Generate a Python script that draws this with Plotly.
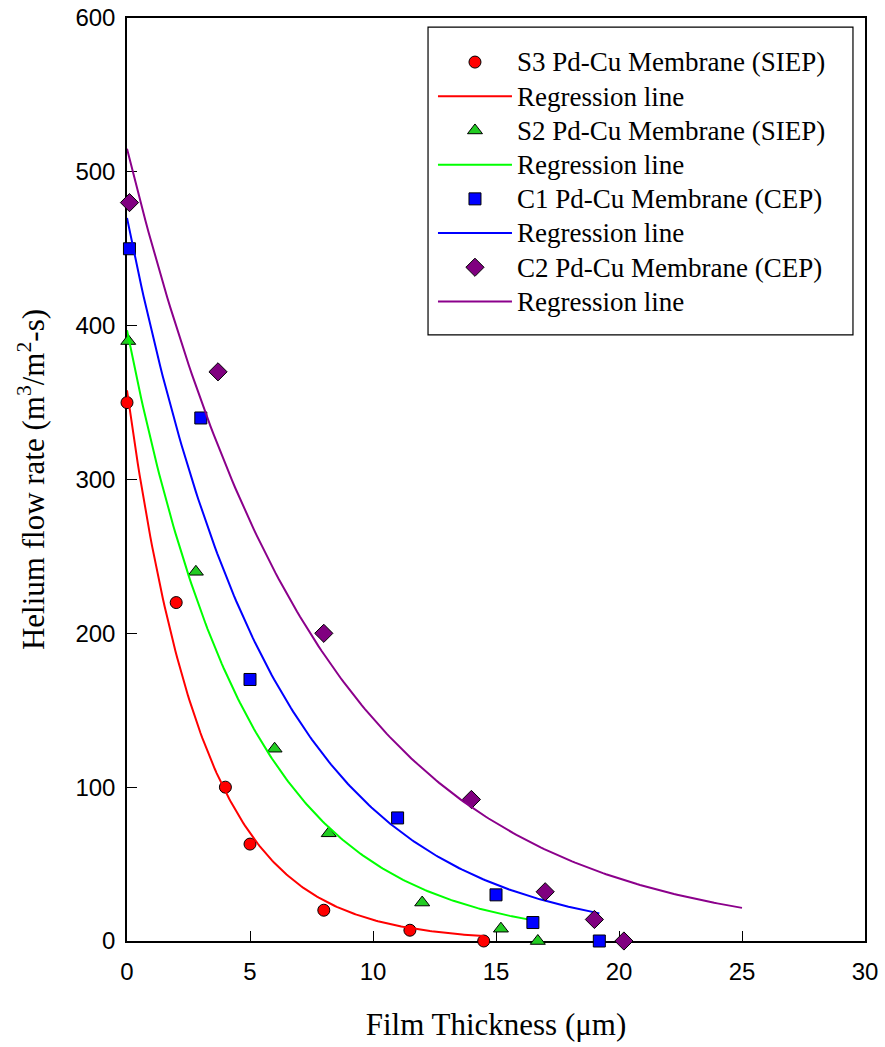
import numpy as np
import plotly.graph_objects as go

# Measured helium flow rate versus Pd-Cu film thickness
s3_thickness = [0.0, 2.0, 4.0, 5.0, 8.0, 11.5, 14.5]
s3_flow = [350, 220, 100, 63, 20, 7, 0]

s2_thickness = [0.05, 2.8, 6.0, 8.2, 12.0, 15.2, 16.7]
s2_flow = [390, 240, 125, 70, 25, 8, 0]

c1_thickness = [0.1, 3.0, 5.0, 11.0, 15.0, 16.5, 19.2]
c1_flow = [450, 340, 170, 80, 30, 12, 0]

c2_thickness = [0.1, 3.7, 8.0, 14.0, 17.0, 19.0, 20.2]
c2_flow = [480, 370, 200, 92, 32, 14, 0]

# Exponential regression y = a * exp(-b * x), with the x span each fit covers
s3_fit = dict(a=358.0, b=0.326, x_end=14.5)
s2_fit = dict(a=397.0, b=0.205, x_end=16.3)
c1_fit = dict(a=470.0, b=0.170, x_end=19.2)
c2_fit = dict(a=515.0, b=0.127, x_end=25.0)

series = [
    ("S3 Pd-Cu Membrane (SIEP)", s3_thickness, s3_flow, s3_fit,
     "circle", 12, "#ff0000", "#ff0000"),
    ("S2 Pd-Cu Membrane (SIEP)", s2_thickness, s2_flow, s2_fit,
     "triangle-up", 13, "#22cc22", "#00ff00"),
    ("C1 Pd-Cu Membrane (CEP)", c1_thickness, c1_flow, c1_fit,
     "square", 12, "#0000ff", "#0000ff"),
    ("C2 Pd-Cu Membrane (CEP)", c2_thickness, c2_flow, c2_fit,
     "diamond", 14, "#800080", "#8b008b"),
]


def legend_label(text):
    # legend rows are spaced for 24px text, the labels themselves are set larger
    return f"<span style='font-size:27px'>{text}</span>"


fig = go.Figure()
for name, xs, ys, fit, symbol, size, fill, line_color in series:
    fig.add_trace(go.Scatter(
        x=xs, y=ys, mode="markers", name=legend_label(name), cliponaxis=False,
        marker=dict(symbol=symbol, size=size, color=fill,
                    line=dict(color="black", width=1)),
    ))
    xf = np.linspace(0, fit["x_end"], 200)
    yf = fit["a"] * np.exp(-fit["b"] * xf)
    fig.add_trace(go.Scatter(
        x=xf, y=yf, mode="lines", name=legend_label("Regression line"),
        line=dict(color=line_color, width=2),
    ))

serif = "Liberation Serif, Times New Roman, serif"
sans = "Liberation Sans, Arial, sans-serif"

axis_common = dict(
    showline=True, linecolor="black", linewidth=1.5, mirror=True,
    ticks="inside", ticklen=10, tickwidth=1.2, tickcolor="black",
    showgrid=False, zeroline=False, layer="below traces", automargin=False,
    tickfont=dict(family=sans, size=24, color="black"),
)

# Framed legend box
fig.add_shape(
    type="rect", xref="paper", yref="paper",
    x0=0.4079, x1=0.9837, y0=0.6566, y1=0.9902,
    line=dict(color="black", width=1.2), fillcolor="white", layer="below",
)

fig.update_layout(
    width=885, height=1047,
    margin=dict(l=127, r=20, t=18, b=106),
    paper_bgcolor="white", plot_bgcolor="white",
    xaxis=dict(
        range=[0, 30], dtick=5, ticklabelstandoff=8,
        title=dict(text="Film Thickness (μm)", standoff=30,
                   font=dict(family=serif, size=31, color="black")),
        **axis_common,
    ),
    yaxis=dict(
        range=[0, 600], dtick=100, ticklabelstandoff=5,
        title=dict(text="Helium flow rate (m<sup>3</sup>/m<sup>2</sup>-s)",
                   standoff=22,
                   font=dict(family=serif, size=31, color="black")),
        **axis_common,
    ),
    legend=dict(
        x=0.4146, y=0.9762, xanchor="left", yanchor="top",
        bgcolor="rgba(0,0,0,0)", borderwidth=0,
        font=dict(family=serif, size=24, color="black"),
        itemwidth=74,
    ),
)

fig.write_html("out.html")
